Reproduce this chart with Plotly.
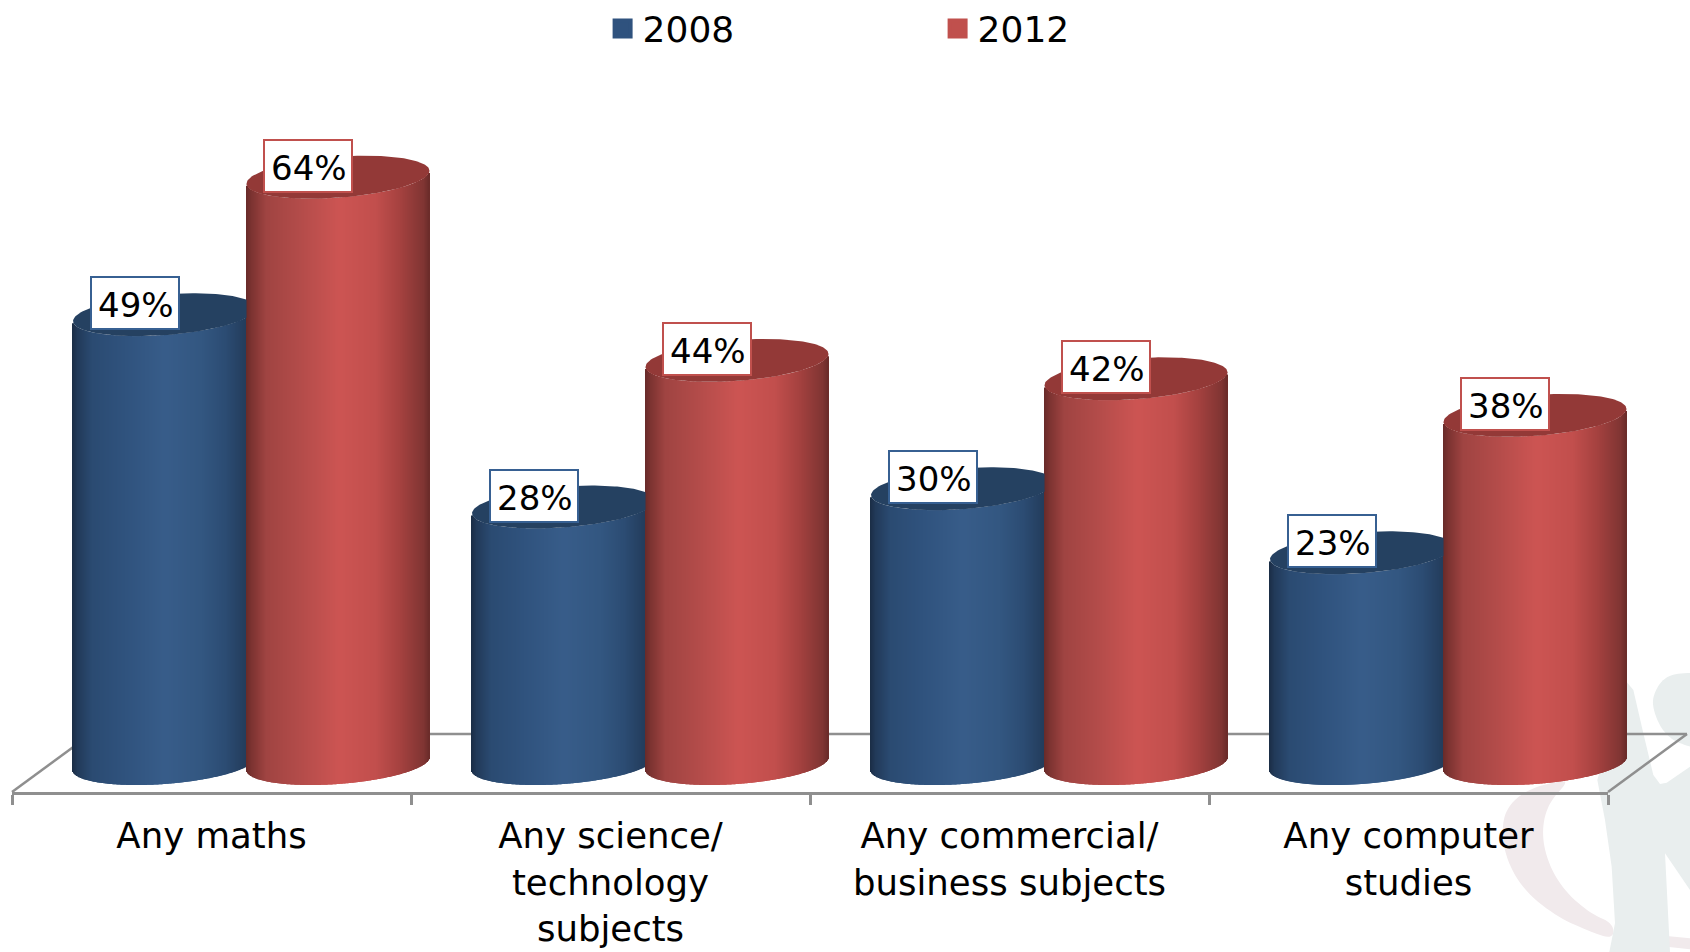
import numpy as np
import plotly.graph_objects as go

# ---- data -------------------------------------------------------------
categories = ["Any maths", "Any science/<br>technology<br>subjects",
              "Any commercial/<br>business subjects", "Any computer<br>studies"]
series_names = ["2008", "2012"]
values_2008 = [49, 28, 30, 23]
values_2012 = [64, 44, 42, 38]

# ---- styling ----------------------------------------------------------
W, H = 1690, 952
FONT = "DejaVu Sans"
PX_PER_CAT = 399.0           # pixels per category
PX_PER_UNIT = 9.16           # pixels per percentage point
Y0_PX, FRONT_PX = 763.5, 792.0
LEFT_PX, RIGHT_PX = 12.0, 1608.0
BACK_PX, DEPTH_DX = 734.0, 79.0
R_PX = 91.5                  # cylinder half-width
ELL_B, ELL_K = 20.5, 6.5     # ellipse half-height and shear (pixels)
OFFSET_2008, OFFSET_2012 = -47.0 / PX_PER_CAT, 126.5 / PX_PER_CAT
GRID = "#8f8f8f"

stops = [0, .03, .11, .29, .51, .71, .84, .97, 1]
ramp_blue = ["#1b2d45", "#223a59", "#2b4b72", "#30537e", "#385d8a", "#335781", "#2c4c73", "#223a58", "#1d3049"]
ramp_red = ["#682b2a", "#7c3331", "#a04442", "#b34c4a", "#cd5553", "#c24f4d", "#a64240", "#803533", "#6a2c2a"]
cap_blue, cap_red = "#254161", "#933937"
swatch_blue, swatch_red = "#2f527e", "#c0504d"
label_blue, label_red = "#376092", "#c0504d"


def hex2rgb(c):
    return np.array([int(c[i:i + 2], 16) for i in (1, 3, 5)], float)


def ramp(t, colors):
    arr = np.array([hex2rgb(c) for c in colors])
    return ["rgb(%d,%d,%d)" % tuple(np.interp(v, stops, arr[:, k]) for k in range(3)) for v in t]


def px_x(x):
    return x / W


def px_y(y):
    return 1 - y / H


def chaikin(points, n=3):
    pts = list(points)
    for _ in range(n):
        out = []
        for i in range(len(pts)):
            p, q = np.array(pts[i]), np.array(pts[(i + 1) % len(pts)])
            out.append(tuple(0.75 * p + 0.25 * q))
            out.append(tuple(0.25 * p + 0.75 * q))
        pts = out
    return pts


def poly(points, color):
    path = "M" + "L".join(f"{px_x(a):.5f},{px_y(b):.5f}" for a, b in points) + "Z"
    return dict(type="path", path=path, xref="paper", yref="paper", layer="below",
                fillcolor=color, line=dict(width=0))


def z5(points):
    return [(1490 + a / 3, 660 + b / 3) for a, b in points]


def segment(x0, y0, x1, y1):
    return dict(type="line", xref="paper", yref="paper", layer="below",
                x0=px_x(x0), y0=px_y(y0), x1=px_x(x1), y1=px_y(y1),
                line=dict(color=GRID, width=2.5))


fig = go.Figure()
a = R_PX / PX_PER_CAT
n_strips = int(2 * R_PX)
t = (np.arange(n_strips) + 0.5) / n_strips
strip_w = 1.5 / PX_PER_CAT


def cylinder_body(values, offset, colors):
    x, y, base, col, width = [], [], [], [], []
    strip_colors = ramp(t, colors)
    for i, v in enumerate(values):
        cx = i + offset
        co = 2 * t - 1              # position across the cylinder
        xs = cx + a * co
        lower = (-ELL_B * np.sqrt(np.clip(1 - co ** 2, 0, 1)) + ELL_K * co) / PX_PER_UNIT
        x += list(xs)
        y += [v] * n_strips
        base += list(lower)
        col += strip_colors
        width += [strip_w] * n_strips
    return go.Bar(x=x, y=y, base=base, width=width, marker=dict(color=col, line=dict(width=0)),
                  xaxis="x2", yaxis="y2", cliponaxis=False, showlegend=False, hoverinfo="skip")


def cap(value, cx, color, xmax=None):
    th = np.linspace(0, 2 * np.pi, 181)
    xs = cx + a * np.cos(th)
    if xmax is not None:
        xs = np.minimum(xs, xmax)
    ys = value + (ELL_B * np.sin(th) + ELL_K * np.cos(th)) / PX_PER_UNIT
    return go.Scatter(x=xs, y=ys, mode="lines", fill="toself", fillcolor=color, line=dict(width=0, color=color),
                      xaxis="x2", yaxis="y2", cliponaxis=False, showlegend=False, hoverinfo="skip")


fig.add_trace(cylinder_body(values_2008, OFFSET_2008, ramp_blue))
fig.add_trace(cylinder_body(values_2012, OFFSET_2012, ramp_red))
for i, v in enumerate(values_2008):
    fig.add_trace(cap(v, i + OFFSET_2008, cap_blue, xmax=i + OFFSET_2012 - a))
for i, v in enumerate(values_2012):
    fig.add_trace(cap(v, i + OFFSET_2012, cap_red))

# legend entries (also carry the category axis)
for name, color in zip(series_names, [swatch_blue, swatch_red]):
    fig.add_trace(go.Scatter(x=categories, y=[None] * 4, name=name, mode="markers",
                             marker=dict(symbol="square", size=16, color=color, line=dict(color=color, width=4)),
                             xaxis="x", yaxis="y"))

# value labels: the box, then the text
annotations = []
for vals, offset, col in [(values_2008, OFFSET_2008, label_blue), (values_2012, OFFSET_2012, label_red)]:
    for i, v in enumerate(vals):
        annotations.append(dict(x=i + offset, y=v, xref="x2", yref="y2", text=" ", showarrow=False,
                                xanchor="center", yanchor="middle", xshift=-30, yshift=11.5,
                                font=dict(family=FONT, size=34), bgcolor="#ffffff", bordercolor=col,
                                borderwidth=2, borderpad=1, width=84, height=48))
        annotations.append(dict(x=i + offset, y=v, xref="x2", yref="y2", text=f"{v}%", showarrow=False,
                                xanchor="center", yanchor="middle", xshift=-29, yshift=9.5,
                                font=dict(family=FONT, size=34, color="#000000")))

shapes = [
    # faint logo behind the chart
    poly(chaikin(z5([(220, 360), (120, 385), (60, 430), (35, 490), (45, 590), (100, 690), (200, 770), (300, 815), (370, 838),
                     (370, 790), (300, 760), (220, 690), (170, 600), (155, 510), (175, 430), (230, 370)])), "#f1eaec"),
    poly(z5([(530, 828), (600, 835), (600, 868), (530, 860)]), "#f1eaec"),
    poly(z5([(405, 60), (322, 360), (345, 480), (365, 620), (375, 790), (358, 876), (540, 876), (525, 580), (600, 690),
             (600, 320), (530, 368), (510, 372), (490, 345), (460, 220), (430, 90)]), "#e9eeee"),
    poly(chaikin(z5([(640, 38), (555, 40), (515, 60), (490, 105), (488, 140), (505, 190), (530, 225), (565, 250), (640, 270)])), "#e9eeee"),
    # floor outline
    segment(LEFT_PX, FRONT_PX, LEFT_PX + DEPTH_DX, BACK_PX),
    segment(LEFT_PX + DEPTH_DX, BACK_PX, RIGHT_PX + DEPTH_DX, BACK_PX),
    segment(RIGHT_PX + DEPTH_DX, BACK_PX, RIGHT_PX, FRONT_PX),
]

y_dom = [(H - FRONT_PX) / H, 1]
y_rng = [(Y0_PX - FRONT_PX) / PX_PER_UNIT, Y0_PX / PX_PER_UNIT]
fig.update_layout(
    width=W, height=H, autosize=False,
    margin=dict(l=0, r=0, t=0, b=0, pad=0, autoexpand=False),
    paper_bgcolor="#ffffff", plot_bgcolor="rgba(0,0,0,0)",
    barmode="overlay", hovermode=False,
    font=dict(family=FONT, size=35, color="#000000"),
    xaxis=dict(type="category", categoryorder="array", categoryarray=categories,
               domain=[LEFT_PX / W, RIGHT_PX / W],
               range=[-0.5, 3.5], tickson="boundaries", ticks="outside", ticklen=10, tickwidth=2.5, tickcolor=GRID,
               showline=True, linecolor=GRID, linewidth=2.5, showgrid=False, zeroline=False,
               tickangle=0, tickfont=dict(family=FONT, size=35.5, color="#000000"), ticklabelstandoff=11),
    yaxis=dict(domain=y_dom, range=y_rng, visible=False, showgrid=False, zeroline=False),
    # full-width subplot for the cylinders, sharing the same scale as the category axis
    xaxis2=dict(domain=[0, 1], anchor="y2", visible=False,
                range=[-0.5 - LEFT_PX / PX_PER_CAT, 3.5 + (W - RIGHT_PX) / PX_PER_CAT]),
    yaxis2=dict(domain=y_dom, anchor="x2", range=y_rng, visible=False, showgrid=False, zeroline=False),
    legend=dict(orientation="h", x=602.6 / W, xanchor="left", y=1 + 1.5 / H, yanchor="top",
                entrywidth=290, entrywidthmode="pixels", itemclick=False, itemdoubleclick=False,
                font=dict(family=FONT, size=36, color="#000000"), bgcolor="rgba(0,0,0,0)", traceorder="normal"),
    annotations=annotations,
    shapes=shapes,
)

fig.write_html("out.html", config=dict(displayModeBar=False),
               post_script="document.body.style.margin='0';")
